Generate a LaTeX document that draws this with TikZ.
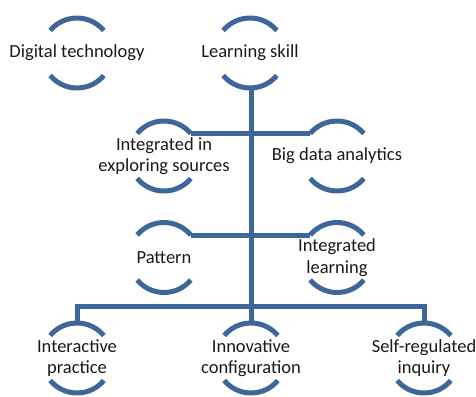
\documentclass[tikz,border=0pt]{standalone}
\usepackage{fontspec}
\setmainfont{Carlito}
\definecolor{ringblue}{RGB}{62,103,153}
\tikzset{
  lbl/.style={align=center,inner sep=0pt,font=\fontsize{18.5}{21.5}\selectfont,text=black!90},
  ringline/.style={draw=ringblue,line width=5pt},
  conn/.style={draw=ringblue,line width=5pt,line join=miter}
}
\newcommand{\ringarcs}[1]{%
  \draw[ringline] ([shift={(40:35pt)}]#1.center) arc[start angle=40,end angle=140,radius=35pt];
  \draw[ringline] ([shift={(-140:35pt)}]#1.center) arc[start angle=-140,end angle=-40,radius=35pt];
  \coordinate (#1-ne) at ([shift={(40:35pt)}]#1.center);
  \coordinate (#1-nw) at ([shift={(140:35pt)}]#1.center);
  \coordinate (#1-t) at ([shift={(0,35pt)}]#1.center);
  \coordinate (#1-b) at ([shift={(0,-35pt)}]#1.center);
}
\begin{document}
\begin{tikzpicture}[x=1pt,y=1pt]
\useasboundingbox (0,0) rectangle (476,-396);
\node[lbl] (dt) at (77,-53) {Digital technology};
\node[lbl] (ls) at (250,-53) {Learning skill};
\node[lbl] (ies) at (164,-156) {Integrated in\\exploring sources};
\node[lbl] (bda) at (337,-156) {Big data analytics};
\node[lbl] (pat) at (164,-257.5) {Pattern};
\node[lbl] (il) at (337,-257.5) {Integrated\\learning};
\node[lbl] (ip) at (77,-358) {Interactive\\practice};
\node[lbl] (ic) at (251,-358) {Innovative\\configuration};
\node[lbl] (sri) at (424,-358) {Self-regulated\\inquiry};
\foreach \n in {dt,ls,ies,bda,pat,il,ip,ic,sri}{\ringarcs{\n}}
\coordinate (j) at (251,-306);
\draw[conn] (ls-b -| j) -- (j);
\draw[conn] (ies-ne) -- (bda-nw);
\draw[conn] (pat-ne) -- (il-nw);
\draw[conn] (ip-t) -- (ip-t |- j) -- (sri-t |- j) -- (sri-t);
\draw[conn] (j) -- (ic-t);
\end{tikzpicture}
\end{document}
